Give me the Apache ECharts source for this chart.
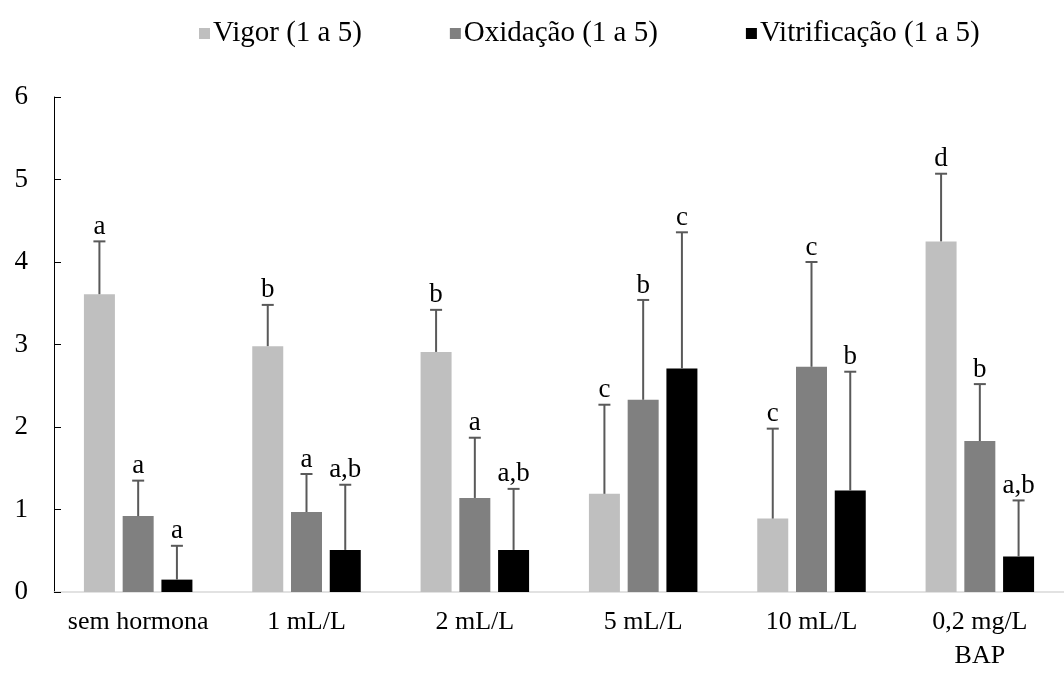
<!DOCTYPE html>
<html>
<head>
<meta charset="utf-8">
<script src="https://cdn.jsdelivr.net/npm/echarts@6/dist/echarts.min.js"></script>
<style>
html,body{margin:0;padding:0;background:#fff;}
#chart{width:1064px;height:673px;}
</style>
</head>
<body>
<div id="chart"></div>
<script>
const categories = ['sem hormona', '1 mL/L', '2 mL/L', '5 mL/L', '10 mL/L', '0,2 mg/L\nBAP'];
const seriesNames = ['Vigor (1 a 5)', 'Oxidação (1 a 5)', 'Vitrificação (1 a 5)'];
const vigor = [3.61, 2.98, 2.91, 1.19, 0.89, 4.25];
const vigorErr = [0.64, 0.50, 0.51, 1.08, 1.09, 0.82];
const vigorLetters = ['a', 'b', 'b', 'c', 'c', 'd'];
const oxidacao = [0.92, 0.97, 1.14, 2.33, 2.73, 1.83];
const oxidacaoErr = [0.43, 0.46, 0.73, 1.21, 1.27, 0.69];
const oxidacaoLetters = ['a', 'a', 'a', 'b', 'c', 'b'];
const vitrificacao = [0.15, 0.51, 0.51, 2.71, 1.23, 0.43];
const vitrificacaoErr = [0.41, 0.79, 0.74, 1.65, 1.44, 0.68];
const vitrificacaoLetters = ['a', 'a,b', 'a,b', 'c', 'b', 'a,b'];
const yTicks = [0, 1, 2, 3, 4, 5, 6];

const colors = ['#bfbfbf', '#808080', '#000000'];
const FONT = "'Liberation Serif', 'Times New Roman', serif";
const BAR_W = 31;
const BAR_GAP = 0.25;

const values = [vigor, oxidacao, vitrificacao];
const errs = [vigorErr, oxidacaoErr, vitrificacaoErr];
const letters = [vigorLetters, oxidacaoLetters, vitrificacaoLetters];

const chart = echarts.init(document.getElementById('chart'), null, {renderer: 'canvas'});

function errorSeries(si) {
  const data = values[si].map((v, i) => [i, v, v + errs[si][i], letters[si][i]]);
  return {
    type: 'custom',
    name: seriesNames[si] + ' err',
    silent: true,
    z: 5,
    renderItem: function (params, api) {
      const ci = api.value(0);
      const base = api.coord([ci, api.value(1)]);
      const top = api.coord([ci, api.value(2)]);
      const step = BAR_W * (1 + BAR_GAP);
      const x = base[0] + (si - 1) * step;
      const capHalf = 6;
      return {
        type: 'group',
        children: [
          {type: 'line', shape: {x1: x, y1: base[1], x2: x, y2: top[1]}, style: {stroke: '#595959', lineWidth: 2}},
          {type: 'line', shape: {x1: x - capHalf, y1: top[1], x2: x + capHalf, y2: top[1]}, style: {stroke: '#595959', lineWidth: 2}},
          {type: 'text', x: x, y: top[1] - 1, style: {text: data[params.dataIndex][3], fill: '#000', font: '27px ' + FONT, textAlign: 'center', textVerticalAlign: 'bottom'}}
        ]
      };
    },
    data: data
  };
}

const option = {
  animation: false,
  backgroundColor: '#fff',
  legend: {
    data: seriesNames,
    top: 14,
    left: 194,
    itemWidth: 11,
    itemHeight: 11,
    itemGap: 88,
    icon: 'rect',
    textStyle: {fontFamily: FONT, fontSize: 29, color: '#000', padding: [0, 0, 0, -2]}
  },
  grid: {left: 54, top: 97, width: 1022, height: 498},
  xAxis: {
    type: 'category',
    data: categories,
    axisLine: {lineStyle: {color: '#d9d9d9', width: 1.5}},
    axisTick: {show: false},
    axisLabel: {fontFamily: FONT, fontSize: 26, color: '#000', margin: 13, lineHeight: 34, interval: 0}
  },
  yAxis: {
    type: 'value',
    min: 0,
    max: 6,
    interval: 1,
    axisLine: {show: true, lineStyle: {color: '#000', width: 1}},
    axisTick: {show: true, inside: true, length: 7, lineStyle: {color: '#000'}},
    splitLine: {show: false},
    axisLabel: {fontFamily: FONT, fontSize: 27, color: '#000', margin: 26,
      formatter: function (v) { return yTicks.indexOf(v) >= 0 ? String(v) : ''; }}
  },
  series: [
    {type: 'bar', name: seriesNames[0], data: vigor, barWidth: BAR_W, barGap: (BAR_GAP * 100) + '%', itemStyle: {color: colors[0]}},
    {type: 'bar', name: seriesNames[1], data: oxidacao, barWidth: BAR_W, barGap: (BAR_GAP * 100) + '%', itemStyle: {color: colors[1]}},
    {type: 'bar', name: seriesNames[2], data: vitrificacao, barWidth: BAR_W, barGap: (BAR_GAP * 100) + '%', itemStyle: {color: colors[2]}},
    errorSeries(0),
    errorSeries(1),
    errorSeries(2)
  ]
};
chart.setOption(option);
</script>
</body>
</html>
